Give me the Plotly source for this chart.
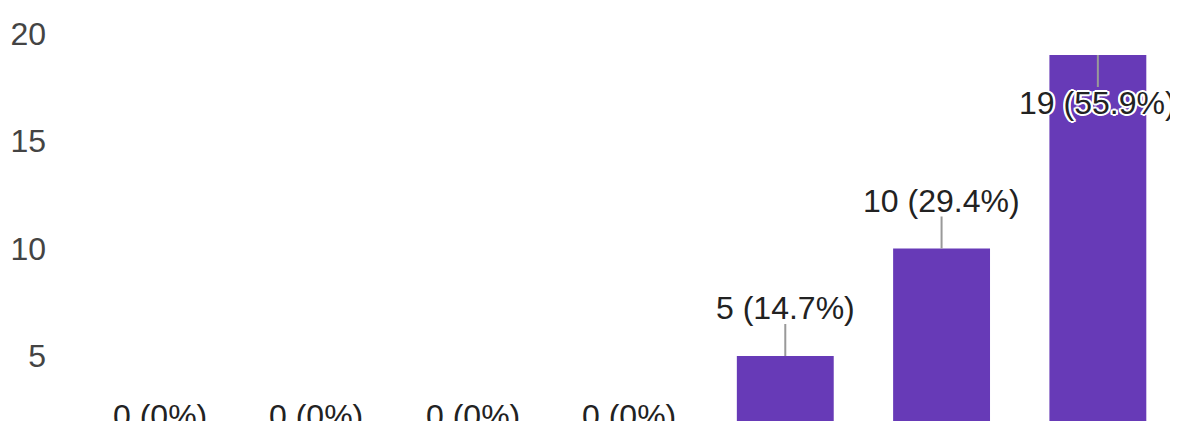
import plotly.graph_objects as go

categories = [1, 2, 3, 4, 5, 6, 7]
counts = [0, 0, 0, 0, 5, 10, 19]
y_ticks = [5, 10, 15, 20]

total = sum(counts)
labels = []
for v in counts:
    pct = round(100 * v / total, 1)
    labels.append(f"{v} ({pct:g}%)")

BAR_COLOR = "#673ab7"
FONT = "Liberation Sans, Arial, sans-serif"
FIG_W, FIG_H = 1170, 413          # page body adds an 8px margin
Y_RANGE = [1.977, 21.186]
PX_PER_UNIT = FIG_H / (Y_RANGE[1] - Y_RANGE[0])
LABEL_OFF = 48 / PX_PER_UNIT
LINE_LEN = 32 / PX_PER_UNIT

fig = go.Figure()
fig.add_trace(go.Bar(x=categories, y=counts, marker=dict(color=BAR_COLOR, line=dict(width=0)),
                     hoverinfo="skip"))

halo = ", ".join(f"{dx}px {dy}px 0 #fff" for dx, dy in
                 [(2, 0), (-2, 0), (0, 2), (0, -2), (1, 1), (-1, -1), (1, -1), (-1, 1),
                  (2, 1), (-2, -1), (2, -1), (-2, 1)])

for cat, v, lab in zip(categories, counts, labels):
    direction = 1 if v + LABEL_OFF + 1 < Y_RANGE[1] else -1
    fig.add_shape(type="line", xref="x", yref="y", x0=cat, x1=cat,
                  y0=v, y1=v + direction * LINE_LEN,
                  line=dict(color="#999999", width=2), layer="above")
    fig.add_annotation(x=cat, y=v + direction * LABEL_OFF, xref="x", yref="y",
                       text=lab, showarrow=False,
                       font=dict(family=FONT, size=32, color="#222222", shadow=halo))

fig.update_layout(
    width=FIG_W, height=FIG_H,
    margin=dict(l=74, r=2, t=0, b=0, autoexpand=False),
    paper_bgcolor="white", plot_bgcolor="white",
    bargap=0.38, showlegend=False,
    font=dict(family=FONT),
)
fig.update_xaxes(range=[0.5, 7.5], showticklabels=False, showgrid=False,
                 zeroline=False, showline=False, ticks="", automargin=False)
fig.update_yaxes(range=Y_RANGE, tickvals=y_ticks, showgrid=False, zeroline=False, showline=False,
                 ticks="", ticklabelstandoff=35, automargin=False,
                 tickfont=dict(family=FONT, size=32, color="#444444"))

fig.write_html("out.html")
